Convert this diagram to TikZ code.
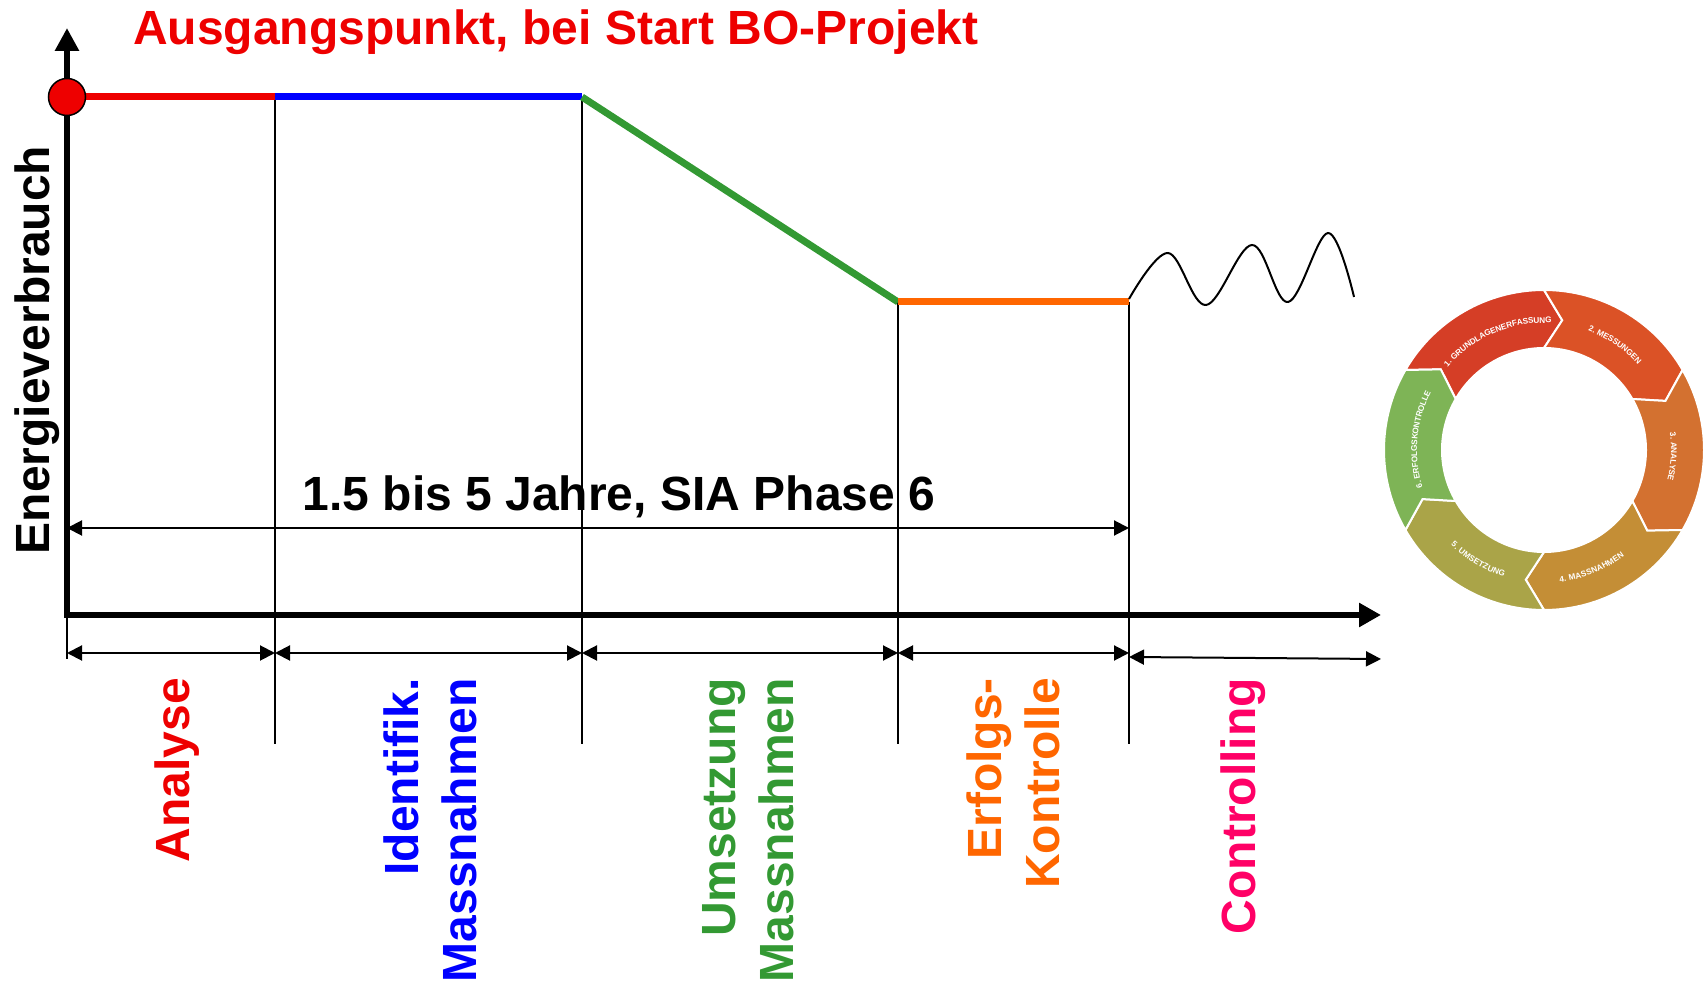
\documentclass[tikz,border=0pt]{standalone}
\usepackage{fontspec}
\setmainfont{Liberation Sans}
\usepackage{tikz}
\usetikzlibrary{arrows.meta,decorations.text}
\definecolor{phasered}{RGB}{238,0,0}
\definecolor{phaseblue}{RGB}{0,0,255}
\definecolor{phasegreen}{RGB}{51,153,51}
\definecolor{phaseorange}{RGB}{255,102,0}
\definecolor{phasepink}{RGB}{255,0,102}
\definecolor{cycA}{RGB}{213,62,38}
\definecolor{cycB}{RGB}{219,82,38}
\definecolor{cycC}{RGB}{211,113,48}
\definecolor{cycD}{RGB}{196,142,54}
\definecolor{cycE}{RGB}{170,164,72}
\definecolor{cycF}{RGB}{126,180,86}
\newcommand\segfont{\fontsize{8.2}{10}\selectfont\bfseries\addfontfeature{LetterSpace=3}}
\tikzset{
  phase/.style={rotate=90,anchor=east,align=right,inner sep=0pt,font=\fontsize{48}{58}\selectfont\bfseries},
  level/.style={line width=7pt},
  divider/.style={line width=1.8pt},
  dim/.style={line width=2pt,<->},
  axis/.style={line width=6.5pt,{Triangle[length=23pt,width=23pt]}-{Triangle[length=22pt,width=23pt]}},
  seg/.style={draw=white,line width=2pt},
  segtext/.style={decorate,decoration={text along path,text align=center,raise=-3pt,text color=white,text={|\segfont|#1}}}
}

\begin{document}
\begin{tikzpicture}[font=\fontsize{48}{58}\selectfont\bfseries,>={Triangle[length=15pt,width=15pt]},x=1pt,y=1pt]
\useasboundingbox (0,0) rectangle (1708,980);
\coordinate (O) at (67,365);
\coordinate (ytop) at (67,952);
\coordinate (xend) at (1381,365);
\coordinate (p0) at (67,883);
\coordinate (p1) at (275,883);
\coordinate (p2) at (582,883);
\coordinate (p3) at (898,678);
\coordinate (p4) at (1129,678);
\coordinate (base) at (0,236);
\coordinate (spanrow) at (0,452);
\coordinate (dimrow) at (0,327);
\coordinate (tickend) at (0,321);
% phase borders
\foreach \p in {p1,p2,p3,p4}
  \draw[divider] (\p) -- (\p |- base);
\draw[divider] (O) -- (O |- tickend);
% energy curve
\draw[level,phasered] (p0) -- (p1);
\draw[level,phaseblue] (p1) -- (p2);
\draw[level,phasegreen] (p2) -- (p3);
\draw[level,phaseorange] (p3) -- (p4);
\draw[line width=2pt] plot[smooth,tension=0.6] coordinates {(1129,681) (1168,727) (1206,675) (1252,735) (1288,678) (1328,747) (1354,683)};
\draw[axis] (ytop) -- (O) -- (xend);
\node[circle,fill=phasered,draw=black,line width=1.5pt,minimum size=37pt,inner sep=0pt] (start) at (p0) {};
\node[anchor=base west,inner sep=0pt,text=phasered] (title) at (133,935) {Ausgangspunkt, bei Start BO-Projekt};
\node[rotate=90,inner sep=0pt] (ylab) at (37,630) {Energieverbrauch};
% durations
\draw[dim] (O |- spanrow) -- (p4 |- spanrow);
\node[anchor=base,inner sep=0pt] (spanlab) at (619,469) {1.5 bis 5 Jahre, SIA Phase 6};
\draw[dim] (O |- dimrow) -- (p1 |- dimrow);
\draw[dim] (p1 |- dimrow) -- (p2 |- dimrow);
\draw[dim] (p2 |- dimrow) -- (p3 |- dimrow);
\draw[dim] (p3 |- dimrow) -- (p4 |- dimrow);
\coordinate (cstart) at (1129,323);
\coordinate (cend) at (1381,321);
\draw[dim] (cstart) -- (cend);
\node[phase,text=phasered] (analyse) at (177,302) {Analyse};
\node[phase,text=phaseblue] (ident) at (430,302) {Identifik.\\Massnahmen};
\node[phase,text=phasegreen] (umsetz) at (748,302) {Umsetzung\\Massnahmen};
\node[phase,text=phaseorange] (erfolg) at (1013,302) {Erfolgs-\\Kontrolle};
\node[phase,text=phasepink] (control) at (1243,302) {Controlling};
% BO cycle
\begin{scope}[shift={(1544,530)}]
\foreach \a/\col in {150/cycA,90/cycB,30/cycC,-30/cycD,-90/cycE,-150/cycF}
  \filldraw[seg,fill=\col] (\a:160) arc[start angle=\a,end angle=\a-60,radius=160]
    -- (\a-68:131) -- (\a-60:102) arc[start angle=\a-60,end angle=\a,radius=102]
    -- (\a-8:131) -- cycle;
\path[segtext={1. GRUNDLAGENERFASSUNG}] (143:130) arc[start angle=143,end angle=83,radius=130];
\path[segtext={2. MESSUNGEN}] (86:130) arc[start angle=86,end angle=26,radius=130];
\path[segtext={3. ANALYSE}] (27:130) arc[start angle=27,end angle=-33,radius=130];
\path[segtext={4. MASSNAHMEN}] (-98:130) arc[start angle=-98,end angle=-38,radius=130];
\path[segtext={5. UMSETZUNG}] (-151:130) arc[start angle=-151,end angle=-91,radius=130];
\path[segtext={6. ERFOLGSKONTROLLE}] (205:130) arc[start angle=205,end angle=145,radius=130];
\end{scope}
\end{tikzpicture}
\end{document}
